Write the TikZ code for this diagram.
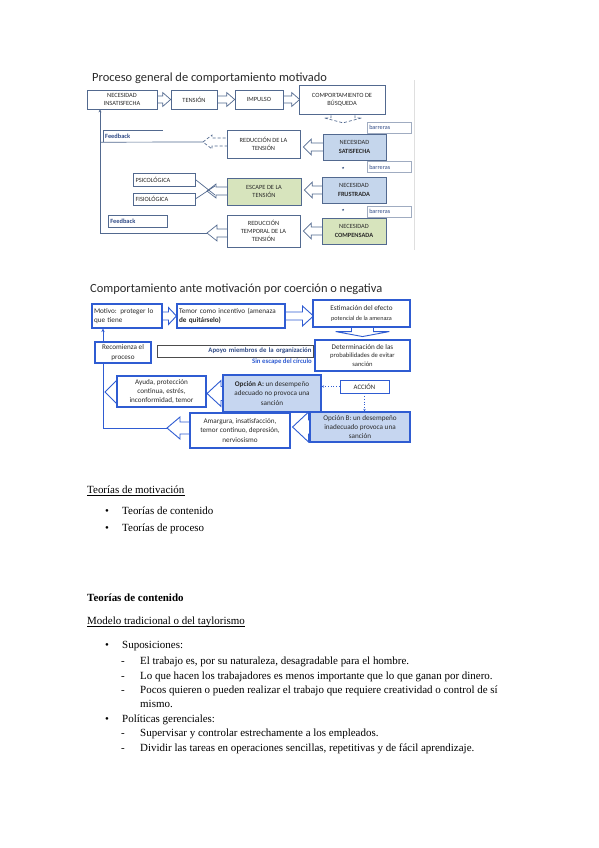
\documentclass[tikz,border=0pt]{standalone}
\usepackage{fontspec}
\setmainfont{Liberation Serif}
\newfontfamily\carl{Carlito}
\usetikzlibrary{calc,arrows.meta}
\pgfdeclarelayer{bg}
\pgfsetlayers{bg,main}
\definecolor{dA}{HTML}{52698F}
\definecolor{dAf}{HTML}{C5D6EC}
\definecolor{dAg}{HTML}{D7E4BD}
\definecolor{dB}{HTML}{2F5CD2}
\definecolor{dBf}{HTML}{C6D6F0}
\definecolor{dtext}{HTML}{2A2A2A}
\definecolor{fbc}{HTML}{2F4A86}
\newcommand{\barrR}[6]{\begin{pgfonlayer}{bg}\draw[#6] let \p1=#1, \p2=#2 in (\x1-4pt,\y2+#3pt) -- (\x2-#5pt,\y2+#3pt) -- (\x2-#5pt,\y2+#4pt) -- (\x2,\y2) -- (\x2-#5pt,\y2-#4pt) -- (\x2-#5pt,\y2-#3pt) -- (\x1-4pt,\y2-#3pt);\end{pgfonlayer}}
\newcommand{\barrL}[6]{\begin{pgfonlayer}{bg}\draw[#6] let \p1=#1, \p2=#2 in (\x1+4pt,\y2+#3pt) -- (\x2+#5pt,\y2+#3pt) -- (\x2+#5pt,\y2+#4pt) -- (\x2,\y2) -- (\x2+#5pt,\y2-#4pt) -- (\x2+#5pt,\y2-#3pt) -- (\x1+4pt,\y2-#3pt);\end{pgfonlayer}}
\newcommand{\barrD}[6]{\begin{pgfonlayer}{bg}\draw[#6] let \p1=#1, \p2=#2 in (\x2+#3pt,\y1+4pt) -- (\x2+#3pt,\y2+#5pt) -- (\x2+#4pt,\y2+#5pt) -- (\x2,\y2) -- (\x2-#4pt,\y2+#5pt) -- (\x2-#3pt,\y2+#5pt) -- (\x2-#3pt,\y1+4pt);\end{pgfonlayer}}
\tikzset{
  d1box/.style={draw=dA, line width=0.7bp, fill=white, align=center, text=dtext, inner sep=0pt, font=\carl\fontsize{6.4}{8.2}\selectfont},
  d2box/.style={draw=dB, line width=1.1bp, fill=white, align=center, text=dtext, inner sep=0pt, font=\carl\fontsize{7.2}{9.2}\selectfont},
  barbox/.style={draw=dA!55, line width=0.5bp, fill=white, text=fbc, anchor=west, inner sep=0pt, font=\carl\fontsize{6.2}{7}\selectfont},
  bar1/.style={draw=dA, line width=0.7bp, fill=white},
  bar2/.style={draw=dB, line width=0.9bp, fill=white},
  ttl/.style={anchor=base west, inner sep=0pt, text=dtext, font=\carl\fontsize{12.5}{14}\selectfont},
  body/.style={anchor=base west, inner sep=0pt, font=\fontsize{11}{13}\selectfont},
  bul/.style={anchor=base, inner sep=0pt, font=\fontsize{11}{13}\selectfont},
}
\begin{document}
\begin{tikzpicture}[x=1bp,y=-1bp]
\useasboundingbox (0,0) rectangle (599,848);
\begin{pgfonlayer}{bg}\fill[white] (0,0) rectangle (599,848);\end{pgfonlayer}

% ================= Diagram 1 =================
\node[ttl] (t1) at (92,81) {Proceso general de comportamiento motivado};
\draw[gray!25, line width=0.6bp] (414,80) -- (414,250);

\node[d1box, minimum width=70bp, minimum height=19bp] (ninsat) at (122,99.5) {NECESIDAD\\INSATISFECHA};
\node[d1box, minimum width=46bp, minimum height=19bp] (tension) at (194,99.5) {TENSIÓN};
\node[d1box, minimum width=48bp, minimum height=19bp] (impulso) at (259,99.5) {IMPULSO};
\node[d1box, minimum width=86bp, minimum height=29bp] (busq) at (342,99.5) {COMPORTAMIENTO DE\\BÚSQUEDA};

\node[barbox, minimum width=43bp, minimum height=11bp, text width=40bp, inner xsep=2bp] (bar1) at (367,127.5) {barreras};
\node[barbox, minimum width=43bp, minimum height=11bp, text width=40bp, inner xsep=2bp] (bar2) at (367,167) {barreras};
\node[barbox, minimum width=43bp, minimum height=11bp, text width=40bp, inner xsep=2bp] (bar3) at (367,211.5) {barreras};

\node[d1box, fill=dAf, minimum width=63bp, minimum height=26bp] (satisf) at (354.5,147) {NECESIDAD\\\textbf{SATISFECHA}};
\node[d1box, minimum width=73bp, minimum height=28bp] (reduc) at (263.5,144) {REDUCCIÓN DE LA\\TENSIÓN};
\node[d1box, fill=dAf, minimum width=64bp, minimum height=26bp] (frustr) at (354,190) {NECESIDAD\\\textbf{FRUSTRADA}};
\node[d1box, fill=dAg, minimum width=74bp, minimum height=27bp] (escape) at (264,191.5) {ESCAPE DE LA\\TENSIÓN};
\node[d1box, minimum width=62bp, minimum height=13bp, text width=57bp, align=left] (psico) at (164,179.5) {PSICOLÓGICA};
\node[d1box, minimum width=62bp, minimum height=12bp, text width=57bp, align=left] (fisio) at (164,199) {FISIOLÓGICA};
\node[d1box, fill=dAg, minimum width=64bp, minimum height=26bp] (compens) at (354,231) {NECESIDAD\\\textbf{COMPENSADA}};
\node[d1box, minimum width=73bp, minimum height=32bp] (redtemp) at (263.5,231) {REDUCCIÓN\\TEMPORAL DE LA\\TENSIÓN};

\node[anchor=west, inner sep=0pt, text=fbc, minimum width=60bp, minimum height=12bp, text width=56bp, inner xsep=2bp, font=\carl\bfseries\fontsize{6.4}{7}\selectfont] (fb1) at (103,136) {Feedback};
\draw[dA, line width=0.6bp] (fb1.south west) |- (fb1.north east);
\node[anchor=west, draw=dA, line width=0.7bp, inner sep=0pt, text=fbc, minimum width=59bp, minimum height=12bp, text width=55bp, inner xsep=2bp, font=\carl\bfseries\fontsize{6.4}{7}\selectfont] (fb2) at (108,221) {Feedback};

\coordinate (tip1) at (203,142);
\coordinate (tip2) at (207,233);
\coordinate (tipx) at (207,191);
\coordinate (corner1) at (100,233);
\coordinate (xa) at (215,195);
\coordinate (xb) at (215,186);

\barrR{(ninsat.east)}{(tension.west)}{3.5}{7}{8}{bar1}
\barrR{(tension.east)}{(impulso.west)}{3.5}{7}{8}{bar1}
\barrR{(impulso.east)}{([xshift=1bp]busq.west)}{3.5}{7}{8}{bar1}
\barrD{(busq.south)}{($(busq.south)+(1,8.5)$)}{12}{19}{5}{bar1, dashed, dash pattern=on 3bp off 2bp}
\barrL{(satisf.west)}{([xshift=3bp]reduc.east |- satisf.west)}{4}{8}{8}{bar1}
\barrL{(reduc.west)}{(tip1)}{4}{7}{9}{bar1, dash pattern=on 3bp off 2bp}
\barrL{(frustr.west)}{([xshift=3bp]escape.east |- frustr.west)}{4}{8}{8}{bar1}
\barrL{(escape.west)}{(tipx)}{4}{7}{9}{bar1}
\barrL{(compens.west)}{([xshift=3bp]redtemp.east |- compens.west)}{4}{8}{8}{bar1}
\barrL{(redtemp.west)}{(tip2)}{4}{8}{10}{bar1}

\draw[dA, line width=0.7bp] (psico.east) -- (xa);
\draw[dA, line width=0.7bp] (fisio.east) -- (xb);
\draw[dA, line width=0.7bp] (tip1) -- (fb1.south west -| corner1);
\draw[dA, line width=0.7bp, -{Stealth[length=3bp,width=3bp]}] (tip2) -- (corner1) -- (corner1 |- ninsat.south);
\draw[dA, line width=0.6bp, -{Stealth[length=2bp,width=2.2bp]}] ($(frustr.north)+(-11,-10)$) -- ($(frustr.north)+(-11,-7.5)$);
\draw[dA, line width=0.6bp, -{Stealth[length=2bp,width=2.2bp]}] ($(compens.north)+(-11,-9)$) -- ($(compens.north)+(-11,-6.5)$);

% ================= Diagram 2 =================
\node[ttl] (t2) at (90,292) {Comportamiento ante motivación por coerción o negativa};

\node[d2box, minimum width=70bp, minimum height=24bp, text width=66bp, align=left] (motivo) at (127,316) {Motivo: proteger lo\\que tiene};
\node[d2box, minimum width=108bp, minimum height=24bp, text width=104bp, align=left] (temor) at (231,316) {Temor como incentivo (amenaza\\\textbf{de quitárselo)}};
\node[d2box, minimum width=97bp, minimum height=27bp] (estim) at (361.5,313.5) {Estimación del efecto\\{\fontsize{6.2}{8}\selectfont potencial de la amenaza}};
\node[d2box, minimum width=95bp, minimum height=31bp, font=\carl\fontsize{6.6}{8.4}\selectfont] (determ) at (362.5,355.5) {{\fontsize{7.2}{8.4}\selectfont Determinación de las}\\probabilidades de evitar\\sanción};
\node[d2box, minimum width=56bp, minimum height=21bp] (recom) at (123,352.5) {Recomienza el\\proceso};
\node[draw=black!70, line width=0.9bp, fill=white, minimum width=156bp, minimum height=12bp, text width=153bp, align=right, inner sep=0pt, text=fbc, font=\carl\bfseries\fontsize{6.8}{7.5}\selectfont] (apoyo) at (235,351) {Apoyo miembros de la organización};
\node[anchor=base east, inner sep=0pt, text=dB, font=\carl\bfseries\fontsize{6.8}{7.5}\selectfont] (sinesc) at (312,363) {Sin escape del círculo};
\node[d2box, line width=0.6bp, minimum width=49bp, minimum height=13bp, font=\carl\fontsize{6.8}{8}\selectfont] (accion) at (364.5,386.5) {ACCIÓN};
\node[d2box, fill=dBf, minimum width=98bp, minimum height=37bp] (opA) at (272,393.5) {\textbf{Opción A:} un desempeño\\adecuado no provoca una\\sanción};
\node[d2box, fill=dBf, minimum width=100bp, minimum height=30bp] (opB) at (360,427) {Opción B: un desempeño\\inadecuado provoca una\\sanción};
\node[d2box, minimum width=89bp, minimum height=31bp] (ayuda) at (161.5,391.5) {Ayuda, protección\\continua, estrés,\\inconformidad, temor};
\node[d2box, minimum width=100bp, minimum height=35bp] (amarg) at (240,430.5) {Amargura, insatisfacción,\\temor continuo, depresión,\\nerviosismo};

\coordinate (tip3) at (167,428);
\coordinate (tip4) at (105,392);
\coordinate (corner2) at (103,428);

\barrR{(motivo.east)}{(temor.west)}{4}{8.5}{8}{bar2}
\barrR{(temor.east)}{([xshift=1bp]estim.west |- temor.east)}{4}{10}{11}{bar2}
\barrD{(estim.south)}{($(estim.south)+(1,9)$)}{11}{27}{5}{bar2}
\barrL{(opA.west)}{([xshift=0.5bp]ayuda.east |- opA.west)}{7}{13}{14}{bar2}
\barrL{(opB.west)}{([xshift=2bp]amarg.east |- opB.west)}{7}{15}{16}{bar2}
\barrL{(amarg.west)}{(tip3)}{6}{11}{13}{bar2}
\barrL{(ayuda.west)}{(tip4)}{6}{12}{12}{bar2}

\begin{pgfonlayer}{bg}
\draw[dB, line width=0.9bp, -{Stealth[length=3.5bp,width=3.5bp]}] (tip3) -- (corner2) -- (corner2 |- motivo.south);
\end{pgfonlayer}
\draw[dB, line width=0.8bp, dotted, -{Stealth[length=2.5bp,width=2.5bp]}] (accion.west) -- (opA.east |- accion.west);
\draw[dB, line width=0.8bp, dotted, -{Stealth[length=2.5bp,width=2.5bp]}] (accion.south) -- (accion.south |- opB.north);

% ================= Text =================
\node[body] (h1) at (87,493) {Teorías de motivación};
\draw[line width=0.5bp] (h1.base west) ++(0,1.8) -- ($(h1.base east)+(0,1.8)$);
\node[bul] (b1) at (107,514) {•};
\node[body] (l1) at (122,514) {Teorías de contenido};
\node[bul] (b2) at (107,531) {•};
\node[body] (l2) at (122,531) {Teorías de proceso};

\node[body, font=\bfseries\fontsize{11}{13}\selectfont] (h2) at (87,601) {Teorías de contenido};
\node[body] (h3) at (87,624) {Modelo tradicional o del taylorismo};
\draw[line width=0.5bp] (h3.base west) ++(0,1.8) -- ($(h3.base east)+(0,1.8)$);

\node[bul] (b3) at (107,648) {•};
\node[body] (s0) at (122,648) {Suposiciones:};
\node[body] (d1) at (121,664.5) {-};
\node[body] (s1) at (140,664.5) {El trabajo es, por su naturaleza, desagradable para el hombre.};
\node[body] (d2) at (121,679) {-};
\node[body] (s2) at (140,679) {Lo que hacen los trabajadores es menos importante que lo que ganan por dinero.};
\node[body] (d3) at (121,693.5) {-};
\node[body] (s3) at (140,693.5) {Pocos quieren o pueden realizar el trabajo que requiere creatividad o control de sí};
\node[body] (s3b) at (140,707.5) {mismo.};
\node[bul] (b4) at (107,722) {•};
\node[body] (p0) at (122,722) {Políticas gerenciales:};
\node[body] (d4) at (121,736.5) {-};
\node[body] (p1) at (140,736.5) {Supervisar y controlar estrechamente a los empleados.};
\node[body] (d5) at (121,751) {-};
\node[body] (p2) at (140,751) {Dividir las tareas en operaciones sencillas, repetitivas y de fácil aprendizaje.};
\end{tikzpicture}
\end{document}
